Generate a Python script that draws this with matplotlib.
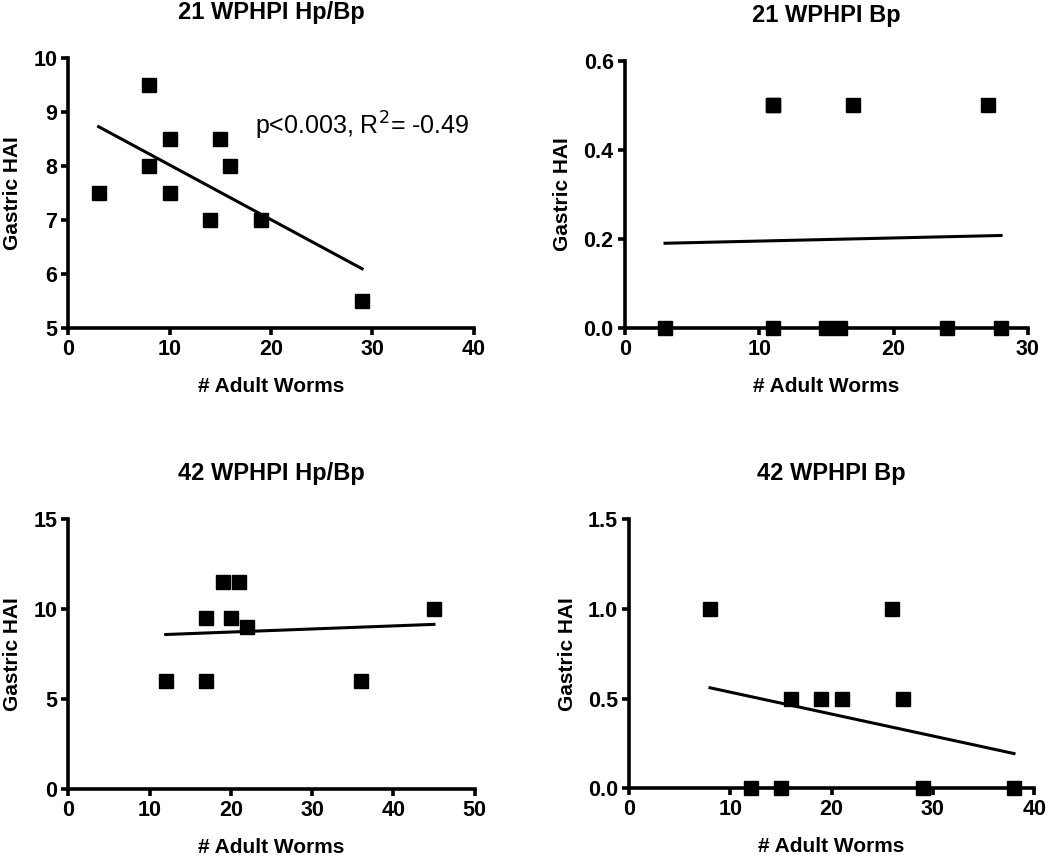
import matplotlib
matplotlib.use("Agg")
import matplotlib.pyplot as plt
import numpy as np

plt.rcParams['font.family'] = ['Liberation Sans', 'DejaVu Sans']

# data
titles = ["21 WPHPI Hp/Bp", "21 WPHPI Bp", "42 WPHPI Hp/Bp", "42 WPHPI Bp"]

worms_21_hpbp = [3, 8, 8, 10, 10, 14, 15, 16, 19, 29]
hai_21_hpbp = [7.5, 9.5, 8, 8.5, 7.5, 7, 8.5, 8, 7, 5.5]

worms_21_bp = [11, 11, 17, 27, 3, 11, 15, 16, 24, 28]
hai_21_bp = [0.5, 0.5, 0.5, 0.5, 0, 0, 0, 0, 0, 0]

worms_42_hpbp = [12, 17, 17, 19, 20, 21, 22, 36, 45]
hai_42_hpbp = [6, 9.5, 6, 11.5, 9.5, 11.5, 9, 6, 10]

worms_42_bp = [8, 26, 16, 19, 21, 27, 12, 15, 29, 38]
hai_42_bp = [1, 1, 0.5, 0.5, 0.5, 0.5, 0, 0, 0, 0]

xmax = [40, 30, 50, 40]
yrange = [(5, 10, 1), (0, 0.6, 0.2), (0, 15, 5), (0, 1.5, 0.5)]
yfmt = ["%d", "%.1f", "%d", "%.1f"]

annot_text = "p<0.003, R$^2$= -0.49"

fig = plt.figure(figsize=(10.5, 8.55), dpi=100)
boxes = [
    [0.065, 0.616, 0.386, 0.316],
    [0.595, 0.616, 0.384, 0.313],
    [0.065, 0.077, 0.387, 0.316],
    [0.599, 0.078, 0.386, 0.315],
]
xs_all = [worms_21_hpbp, worms_21_bp, worms_42_hpbp, worms_42_bp]
ys_all = [hai_21_hpbp, hai_21_bp, hai_42_hpbp, hai_42_bp]

for i in range(4):
    ax = fig.add_axes(boxes[i])
    x = np.array(xs_all[i], dtype=float)
    y = np.array(ys_all[i], dtype=float)
    ax.plot(x, y, 's', color='black', ms=10, clip_on=False, zorder=3)

    # linear regression line over data range
    slope, icpt = np.polyfit(x, y, 1)
    xl = np.array([x.min(), x.max()])
    ax.plot(xl, slope * xl + icpt, color='black', lw=2.2, zorder=2)

    y0, y1, ystep = yrange[i]
    ax.set_xlim(0, xmax[i])
    ax.set_ylim(y0, y1)
    ax.set_xticks(np.arange(0, xmax[i] + 1, 10))
    ax.set_yticks(np.arange(y0, y1 + ystep / 2, ystep))
    ax.yaxis.set_major_formatter(matplotlib.ticker.FormatStrFormatter(yfmt[i]))

    for s in ['top', 'right']:
        ax.spines[s].set_visible(False)
    for s in ['left', 'bottom']:
        ax.spines[s].set_linewidth(2.6)
    ax.tick_params(direction='out', length=5, width=2.6, labelsize=15.5, pad=3)
    for lab in ax.get_xticklabels() + ax.get_yticklabels():
        lab.set_fontweight('bold')

    ax.set_title(titles[i], fontsize=17, fontweight='bold', pad=28)
    ax.set_xlabel("# Adult Worms", fontsize=15, fontweight='bold', labelpad=12)
    ax.set_ylabel("Gastric HAI", fontsize=15, fontweight='bold', labelpad=8)

    if i == 0:
        ax.text(18.4, 8.75, annot_text, fontsize=18, va='center', ha='left')

fig.savefig("out.png", dpi=100)
